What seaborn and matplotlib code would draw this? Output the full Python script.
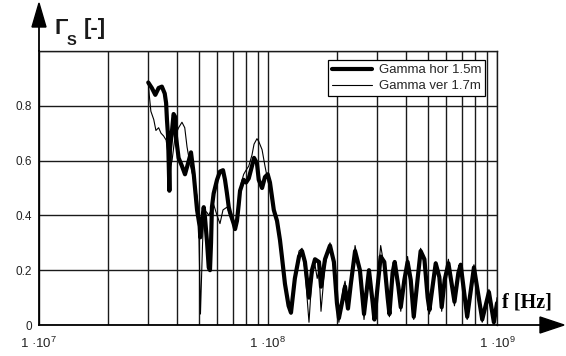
import numpy as np
import pandas as pd
import matplotlib
matplotlib.use("Agg")
import matplotlib.pyplot as plt
import seaborn as sns
from matplotlib.ticker import FixedLocator, LogLocator, NullFormatter
from matplotlib.patches import Polygon
from matplotlib.lines import Line2D

# ---------------- data (frequency in MHz, reflection factor) ----------------
hor_f = [30, 31.1, 32.2, 33.3, 34.4, 35.4, 35.9, 36.2, 36.6, 36.8, 37.1, 37.3, 38.1, 38.7, 39.3,
         39.6, 40.7, 42.1, 43.4, 45.1, 46.1, 47.4, 48.0, 49.0, 50.3, 50.6, 51.5, 52.4, 53.1, 54.2,
         55.1, 55.8, 56.4, 56.9, 57.9, 59.9, 61.7, 63.6, 64.9, 66.2, 67.4, 68.3, 70.8, 71.8, 73.2,
         74.5, 75.5, 78.3, 80.2, 82.4, 85.1, 86.9, 89.5, 91.1, 94.2, 97.0, 99.7, 102, 104, 106,
         109.5, 112.8, 115, 118.6, 123, 126, 131, 136.6, 140.8, 145, 151, 155.6, 160.4, 167, 170.4,
         177.4, 186.5, 194, 200, 204, 212.6, 217, 223.5, 230, 240, 252, 262.6, 276, 286.6, 291.5,
         301, 310.5, 322, 333, 339, 350, 357.5, 371, 380, 394, 407, 420, 433, 451, 464,
         482, 498, 507, 528, 540, 560, 573.5, 591, 613.5, 634, 652, 678, 694, 741, 793,
         862, 922, 969, 1000]
hor_g = [0.885, 0.865, 0.84, 0.865, 0.87, 0.845, 0.81, 0.75, 0.69, 0.61, 0.49, 0.64, 0.71, 0.77, 0.76,
         0.69, 0.61, 0.58, 0.55, 0.60, 0.63, 0.55, 0.50, 0.42, 0.36, 0.32, 0.38, 0.43, 0.39, 0.30,
         0.21, 0.20, 0.30, 0.43, 0.48, 0.53, 0.56, 0.565, 0.53, 0.48, 0.43, 0.41, 0.37, 0.35, 0.38,
         0.44, 0.49, 0.53, 0.52, 0.535, 0.58, 0.61, 0.59, 0.53, 0.50, 0.54, 0.55, 0.52, 0.47, 0.42,
         0.38, 0.31, 0.25, 0.15, 0.07, 0.045, 0.17, 0.25, 0.27, 0.23, 0.10, 0.20, 0.24, 0.23, 0.14,
         0.24, 0.29, 0.23, 0.08, 0.025, 0.10, 0.14, 0.06, 0.15, 0.27, 0.20, 0.04, 0.20, 0.08, 0.02,
         0.14, 0.25, 0.23, 0.10, 0.04, 0.19, 0.23, 0.14, 0.065, 0.165, 0.23, 0.165, 0.03, 0.175, 0.27,
         0.24, 0.10, 0.055, 0.165, 0.225, 0.175, 0.065, 0.165, 0.225, 0.15, 0.085, 0.19, 0.22, 0.03, 0.21,
         0.02, 0.12, 0.01, 0.08]

ver_f = [30, 30.3, 30.8, 31.7, 32.4, 33.3, 34.1, 35.0, 35.9, 36.8, 37.3, 38.1, 39.3, 40.7, 42.1,
         43.3, 44.3, 45.6, 47.4, 49.0, 49.7, 50.7, 51.8, 52.5, 54.2, 55.1, 57.9, 59.9, 61.7, 63.6,
         66.2, 68.3, 70.8, 71.8, 73.2, 74.5, 76.5, 78.3, 80.2, 82.4, 85.1, 86.9, 89.5, 91.1, 94.2,
         97.0, 99.7, 102, 104, 106, 109.5, 112.8, 115, 118.6, 123, 126, 131, 136.6, 140.8, 145,
         151, 155.6, 160.4, 164, 167, 170.4, 177.4, 186.5, 194, 200, 204, 212.6, 217, 223.5, 230,
         240, 252, 262.6, 276, 286.6, 291.5, 301, 310.5, 322, 333, 339, 350, 357.5, 371, 380,
         394, 407, 420, 433, 451, 464, 482, 498, 507, 528, 540, 560, 573.5, 591, 613.5,
         634, 652, 678, 694, 741, 793, 862, 922, 969, 1000]
ver_g = [0.885, 0.84, 0.78, 0.75, 0.71, 0.72, 0.70, 0.69, 0.675, 0.61, 0.57, 0.60, 0.69, 0.72, 0.74,
         0.72, 0.65, 0.59, 0.53, 0.47, 0.42, 0.04, 0.30, 0.42, 0.41, 0.40, 0.44, 0.40, 0.37, 0.42,
         0.43, 0.40, 0.37, 0.36, 0.40, 0.46, 0.52, 0.55, 0.565, 0.58, 0.62, 0.66, 0.68, 0.67, 0.64,
         0.58, 0.53, 0.49, 0.45, 0.41, 0.39, 0.31, 0.25, 0.16, 0.08, 0.04, 0.18, 0.27, 0.28, 0.20,
         0.01, 0.18, 0.22, 0.17, 0.20, 0.05, 0.22, 0.30, 0.22, 0.07, 0.01, 0.13, 0.16, 0.08, 0.14,
         0.29, 0.19, 0.02, 0.20, 0.10, 0.04, 0.17, 0.29, 0.21, 0.08, 0.03, 0.19, 0.22, 0.12, 0.05,
         0.17, 0.25, 0.15, 0.02, 0.19, 0.28, 0.22, 0.08, 0.04, 0.17, 0.23, 0.16, 0.05, 0.17, 0.24,
         0.14, 0.07, 0.20, 0.21, 0.02, 0.22, 0.01, 0.13, 0.0, 0.10]

series_names = ["Gamma hor 1.5m", "Gamma ver 1.7m"]
x_major = [1e7, 1e8, 1e9]
x_major_labels = ["1 ·10$^{7}$", "1 ·10$^{8}$", "1 ·10$^{9}$"]
y_ticks = [0, 0.2, 0.4, 0.6, 0.8, 1.0]
y_tick_labels = ["0", "0.2", "0.4", "0.6", "0.8", ""]

# ---------------- style ----------------
sns.set_style("white")
plt.rcParams["font.family"] = ["Liberation Sans", "DejaVu Sans"]
plt.rcParams["mathtext.fontset"] = "custom"
plt.rcParams["mathtext.rm"] = "Liberation Sans"
plt.rcParams["mathtext.it"] = "Liberation Sans:italic"
plt.rcParams["mathtext.bf"] = "Liberation Sans:bold"
plt.rcParams["mathtext.default"] = "regular"

W, H = 566, 356
fig = plt.figure(figsize=(W / 100, H / 100), dpi=100)
L, R, T, B = 39, 497, 51, 325
ax = fig.add_axes([L / W, (H - B) / H, (R - L) / W, (B - T) / H])
ax.set_xscale("log")

df_h = pd.DataFrame({"f": np.array(hor_f) * 1e6, "g": hor_g})
df_v = pd.DataFrame({"f": np.array(ver_f) * 1e6, "g": ver_g})
sns.lineplot(data=df_h, x="f", y="g", ax=ax, color="black", lw=3.0, estimator=None,
             sort=False, zorder=3, legend=False, solid_joinstyle="round")
sns.lineplot(data=df_v, x="f", y="g", ax=ax, color="black", lw=0.8, estimator=None,
             sort=False, zorder=4, legend=False)

ax.set_xlim(1e7, 1e9)
ax.set_ylim(0, 1.0)
ax.set_xlabel("")
ax.set_ylabel("")

gc = "#1a1a1a"
ax.xaxis.set_major_locator(FixedLocator(x_major))
ax.set_xticklabels(x_major_labels)
ax.xaxis.set_minor_locator(LogLocator(base=10, subs=np.arange(2, 10)))
ax.xaxis.set_minor_formatter(NullFormatter())
ax.set_yticks(y_ticks)
ax.set_yticklabels(y_tick_labels)
ax.grid(True, which="both", axis="x", color=gc, lw=1.0)
ax.grid(True, which="major", axis="y", color=gc, lw=1.0)
ax.tick_params(axis="both", which="both", length=0, colors="#222222", labelsize=8.5)
ax.tick_params(axis="x", pad=8, labelsize=9.5)
ax.tick_params(axis="y", pad=5)
for s in ["top", "right"]:
    ax.spines[s].set_color(gc)
    ax.spines[s].set_linewidth(1.0)
for s in ["left", "bottom"]:
    ax.spines[s].set_color("black")
    ax.spines[s].set_linewidth(1.3)


def px(x, y):
    return (x / W, 1 - y / H)


# axis arrows
fig.add_artist(Line2D([px(L, T)[0], px(L, 26)[0]], [px(L, T)[1], px(L, 26)[1]],
                      color="black", lw=1.3, transform=fig.transFigure))
fig.add_artist(Polygon([px(L - 7, 27), px(L + 7, 27), px(L, 3)], closed=True,
                       color="black", transform=fig.transFigure))
fig.add_artist(Line2D([px(R, B)[0], px(541, B)[0]], [px(R, B)[1], px(541, B)[1]],
                      color="black", lw=1.3, transform=fig.transFigure))
fig.add_artist(Polygon([px(540, B - 8), px(540, B + 8), px(564, B)], closed=True,
                       color="black", transform=fig.transFigure))

# axis titles
fig.text(*px(55, 34), "Γ", fontsize=16, fontweight="bold", color="#1a1a1a", va="baseline")
fig.text(*px(67, 45), "S", fontsize=10.5, fontweight="bold", color="#1a1a1a", va="baseline")
fig.text(*px(84, 34), "[-]", fontsize=16, fontweight="bold", color="#1a1a1a", va="baseline")
fig.text(*px(502, 303), "f [Hz]", fontsize=14.5, fontweight="bold", color="black",
         family=["Liberation Serif", "DejaVu Serif"], va="center")

# legend
handles = [Line2D([], [], color="black", lw=3.0), Line2D([], [], color="black", lw=0.8)]
leg = ax.legend(handles, series_names, loc="upper right", bbox_to_anchor=(0.974, 0.967),
                frameon=True, fancybox=False, edgecolor="black", framealpha=1, fontsize=9.5,
                handlelength=3.0, borderpad=0.3, labelspacing=0.3, handletextpad=0.5,
                borderaxespad=0)
leg.get_frame().set_linewidth(0.9)

fig.savefig("out.png", dpi=100)
